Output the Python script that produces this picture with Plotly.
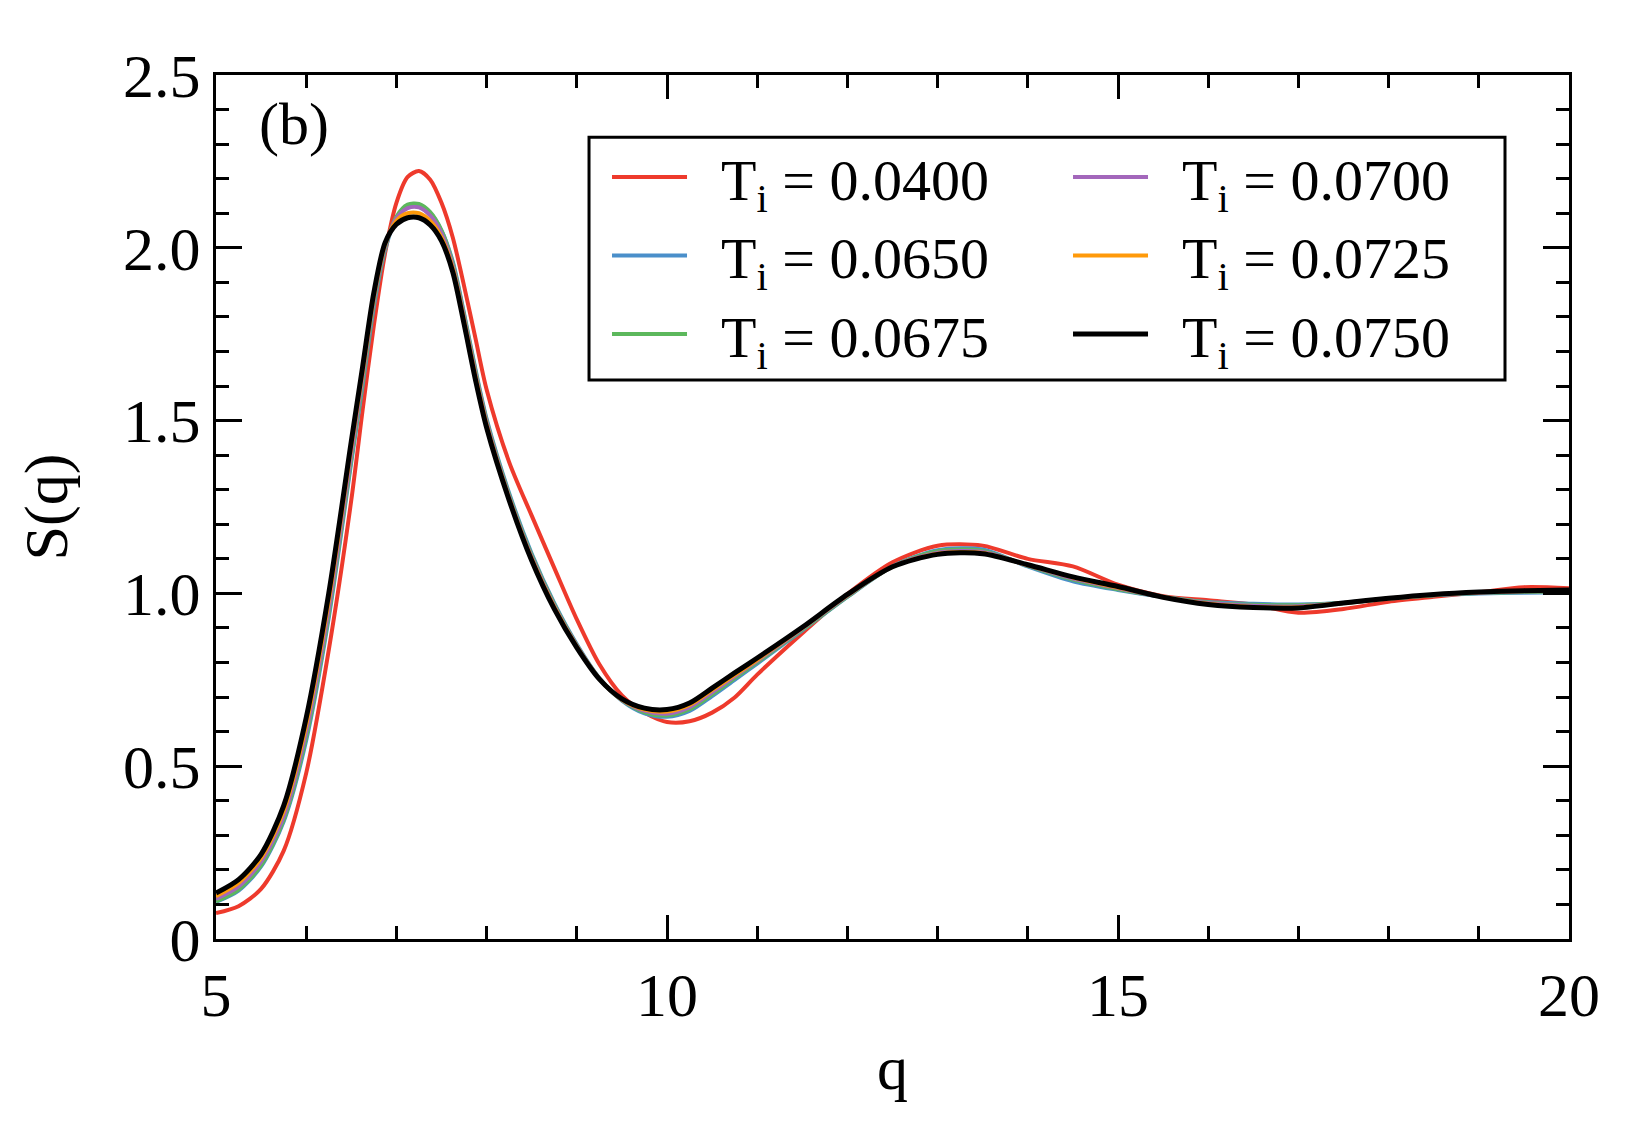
import plotly.graph_objects as go

q = [5.0, 5.25, 5.5, 5.75, 6.0, 6.25, 6.5,
     6.625, 6.75, 6.875, 7.0, 7.125, 7.25, 7.375, 7.5, 7.625, 7.75, 7.875, 8.0,
     8.25, 8.5, 8.75, 9.0, 9.25, 9.5, 9.75, 10.0, 10.25, 10.5, 10.75, 11.0,
     11.5, 12.0, 12.5, 13.0, 13.5, 14.0, 14.5, 15.0, 15.5, 16.0, 16.5, 17.0, 17.5,
     18.0, 18.5, 19.0, 19.5, 20.0]

s_0400 = [0.075, 0.095, 0.145, 0.255, 0.48, 0.836, 1.27,
          1.53, 1.775, 1.985, 2.13, 2.205, 2.222, 2.197, 2.13, 2.03, 1.89, 1.74, 1.59,
          1.38, 1.225, 1.074, 0.925, 0.795, 0.705, 0.655, 0.628, 0.63, 0.655, 0.699, 0.765,
          0.885, 0.998, 1.09, 1.138, 1.138, 1.10, 1.078, 1.025, 0.992, 0.98, 0.968, 0.944, 0.955,
          0.976, 0.99, 1.003, 1.018, 1.015]
s_0650 = [0.107, 0.14, 0.21, 0.34, 0.575, 0.93, 1.38,
          1.60, 1.83, 1.995, 2.085, 2.12, 2.122, 2.10, 2.05, 1.96, 1.81, 1.65, 1.505,
          1.29, 1.115, 0.972, 0.853, 0.755, 0.69, 0.653, 0.643, 0.66, 0.703, 0.75, 0.797,
          0.893, 0.99, 1.078, 1.125, 1.127, 1.078, 1.035, 1.01, 0.99, 0.975, 0.97, 0.968, 0.973,
          0.985, 0.995, 1.0, 1.002, 1.003]
s_0675 = [0.109, 0.143, 0.214, 0.345, 0.585, 0.94, 1.39,
          1.61, 1.84, 2.0, 2.09, 2.125, 2.127, 2.103, 2.05, 1.955, 1.805, 1.645, 1.50,
          1.285, 1.11, 0.968, 0.85, 0.754, 0.691, 0.656, 0.647, 0.665, 0.708, 0.755, 0.801,
          0.895, 0.991, 1.078, 1.122, 1.123, 1.08, 1.04, 1.012, 0.99, 0.974, 0.967, 0.966, 0.972,
          0.985, 0.995, 1.001, 1.004, 1.005]
s_0700 = [0.116, 0.152, 0.224, 0.355, 0.60, 0.955, 1.405,
          1.625, 1.85, 2.005, 2.085, 2.115, 2.117, 2.093, 2.042, 1.948, 1.798, 1.638, 1.495,
          1.28, 1.105, 0.964, 0.848, 0.753, 0.692, 0.66, 0.652, 0.671, 0.714, 0.76, 0.805,
          0.898, 0.993, 1.078, 1.118, 1.12, 1.081, 1.043, 1.015, 0.99, 0.972, 0.964, 0.963, 0.972,
          0.985, 0.996, 1.002, 1.006, 1.007]
s_0725 = [0.124, 0.162, 0.235, 0.37, 0.62, 0.978, 1.425,
          1.64, 1.86, 2.01, 2.078, 2.10, 2.10, 2.078, 2.03, 1.94, 1.79, 1.63, 1.488,
          1.275, 1.10, 0.96, 0.846, 0.753, 0.693, 0.664, 0.658, 0.677, 0.72, 0.764, 0.808,
          0.90, 0.995, 1.077, 1.115, 1.117, 1.082, 1.046, 1.017, 0.99, 0.97, 0.961, 0.96, 0.972,
          0.985, 0.996, 1.003, 1.007, 1.009]
s_0750 = [0.133, 0.172, 0.245, 0.385, 0.64, 1.0, 1.44,
          1.655, 1.87, 2.015, 2.068, 2.087, 2.087, 2.066, 2.02, 1.93, 1.78, 1.62, 1.48,
          1.27, 1.095, 0.955, 0.843, 0.752, 0.695, 0.668, 0.664, 0.683, 0.726, 0.77, 0.813,
          0.902, 0.997, 1.077, 1.113, 1.115, 1.083, 1.048, 1.02, 0.989, 0.968, 0.959, 0.958, 0.972,
          0.986, 0.997, 1.004, 1.008, 1.01]

names = ["T<sub>i</sub> = 0.0400", "T<sub>i</sub> = 0.0650", "T<sub>i</sub> = 0.0675",
         "T<sub>i</sub> = 0.0700", "T<sub>i</sub> = 0.0725", "T<sub>i</sub> = 0.0750"]
series = [s_0400, s_0650, s_0675, s_0700, s_0725, s_0750]
colors = ["#ee3a2c", "#4a8fca", "#5cb85c", "#a367bb", "#ff9a0a", "#000000"]
widths = [4, 4, 4, 4, 4, 5]
ranks = [1, 3, 5, 2, 4, 6]

x_ticks = [5, 10, 15, 20]
y_ticks = [0, 0.5, 1.0, 1.5, 2.0, 2.5]
y_ticktext = ["0", "0.5", "1.0", "1.5", "2.0", "2.5"]

FONT = "Liberation Serif"
NBSP = "\u00a0"

fig = go.Figure()
for nm, ys, c, w, r in zip(names, series, colors, widths, ranks):
    fig.add_trace(go.Scatter(x=q, y=ys, mode="lines", name=NBSP * 2 + nm, legendrank=r,
                             line=dict(color=c, width=w, shape="spline", smoothing=0.8)))

axis_common = dict(showline=True, linecolor="black", linewidth=3, mirror="ticks",
                   ticks="inside", tickwidth=3, tickcolor="black", showgrid=False, zeroline=False,
                   tickfont=dict(family=FONT, size=62, color="black"))

fig.update_xaxes(range=[5, 20], tickvals=x_ticks, ticklen=24,
                 minor=dict(dtick=1, ticks="inside", ticklen=13, tickwidth=3, tickcolor="black", showgrid=False),
                 title=dict(text="q", font=dict(family=FONT, size=62, color="black"), standoff=18),
                 **axis_common)
fig.update_yaxes(range=[0, 2.5], tickvals=y_ticks, ticktext=y_ticktext, ticklen=26,
                 minor=dict(dtick=0.1, ticks="inside", ticklen=13, tickwidth=3, tickcolor="black", showgrid=False),
                 title=dict(text="S(q)", font=dict(family=FONT, size=62, color="black"), standoff=36),
                 **axis_common)

fig.add_annotation(x=0.03, y=0.943, xref="paper", yref="paper", text="(b)", showarrow=False,
                   xanchor="left", yanchor="middle", font=dict(family=FONT, size=60, color="black"))

# legend frame
fig.add_shape(type="rect", xref="paper", yref="paper", x0=0.2757, x1=0.9527, y0=0.647, y1=0.928,
              line=dict(color="black", width=3), fillcolor="white", layer="above")

fig.update_layout(
    width=1650, height=1125,
    margin=dict(l=216, r=81, t=75, b=186),
    plot_bgcolor="white", paper_bgcolor="white",
    legend=dict(x=0.289, y=0.933, xanchor="left", yanchor="top", orientation="h",
                entrywidth=371, itemwidth=75, traceorder="normal",
                borderwidth=0, bgcolor="rgba(0,0,0,0)",
                font=dict(family=FONT, size=58, color="black"), tracegroupgap=0),
    font=dict(family=FONT, color="black"),
)

fig.write_html("out.html")
